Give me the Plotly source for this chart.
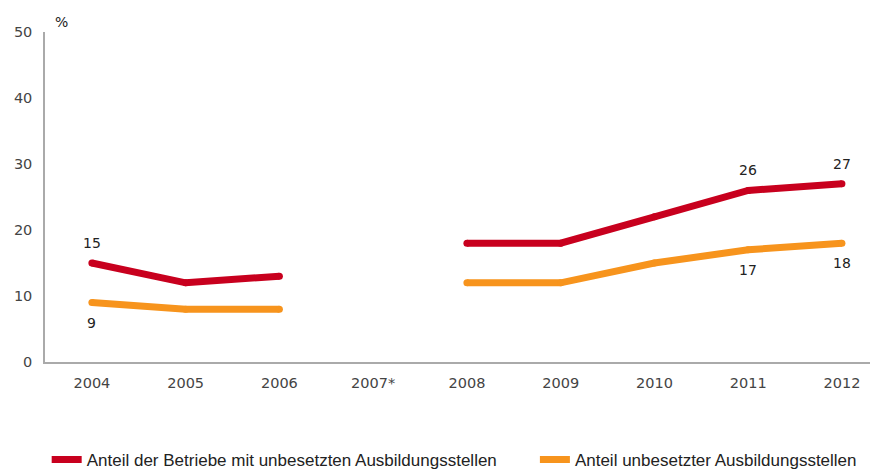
import plotly.graph_objects as go

years = ["2004", "2005", "2006", "2007*", "2008", "2009", "2010", "2011", "2012"]
betriebe = [15, 12, 13, None, 18, 18, 22, 26, 27]
stellen = [9, 8, 8, None, 12, 12, 15, 17, 18]
betriebe_labels = ["15", "", "", "", "", "", "", "26", "27"]
stellen_labels = ["9", "", "", "", "", "", "", "17", "18"]
y_ticks = [0, 10, 20, 30, 40, 50]

x = list(range(len(years)))
red = "#C8001E"
orange = "#F7941D"

fig = go.Figure()
for vals, col, nm in [(betriebe, red, "Anteil der Betriebe mit unbesetzten Ausbildungsstellen" + "\u00a0" * 7),
                      (stellen, orange, "Anteil unbesetzter Ausbildungsstellen")]:
    fig.add_trace(go.Scatter(
        x=x, y=vals, mode="lines", name=nm,
        line=dict(color=col, width=7), connectgaps=False,
    ))
for vals, col in [(betriebe, red), (stellen, orange)]:
    fig.add_trace(go.Scatter(
        x=x, y=vals, mode="markers", showlegend=False, hoverinfo="skip",
        marker=dict(color=col, size=7, line=dict(width=0)),
    ))

annotations = [dict(text="%", x=0.0095, xref="paper", y=1.0, yref="paper", yanchor="bottom",
                    xanchor="left", showarrow=False, yshift=0,
                    font=dict(family="DejaVu Sans", size=14, color="#222"))]
for xi, yv, lab in zip(x, betriebe, betriebe_labels):
    if lab:
        annotations.append(dict(text=lab, x=xi, y=yv, xref="x", yref="y", showarrow=False,
                                yshift=20, font=dict(family="DejaVu Sans", size=14, color="#222")))
for xi, yv, lab in zip(x, stellen, stellen_labels):
    if lab:
        annotations.append(dict(text=lab, x=xi, y=yv, xref="x", yref="y", showarrow=False,
                                yshift=-20, font=dict(family="DejaVu Sans", size=14, color="#222")))

fig.update_layout(
    width=878, height=470,
    margin=dict(l=37, r=0, t=24, b=115),
    plot_bgcolor="white", paper_bgcolor="white",
    font=dict(family="DejaVu Sans", size=14, color="#444"),
    showlegend=True,
    legend=dict(orientation="h", x=0.002, xanchor="left", y=-0.298, yanchor="middle",
                font=dict(family="Liberation Sans", size=17, color="#222"),
                tracegroupgap=0),
    annotations=annotations,
)
fig.update_xaxes(range=[-0.5, 8.47], tickmode="array", tickvals=x, ticktext=years,
                 showline=True, linecolor="#aaa", linewidth=1.5, showgrid=False, zeroline=False,
                 ticks="outside", ticklen=7, tickcolor="rgba(0,0,0,0)", automargin=False,
                 tickfont=dict(size=14.5, color="#444"))
fig.update_yaxes(range=[0, 50], tickmode="array", tickvals=y_ticks,
                 showline=True, linecolor="#aaa", linewidth=1.5, showgrid=False, zeroline=False,
                 ticks="outside", ticklen=8, tickcolor="rgba(0,0,0,0)", automargin=False,
                 tickfont=dict(size=14.5, color="#444"))

fig.write_html("out.html")
